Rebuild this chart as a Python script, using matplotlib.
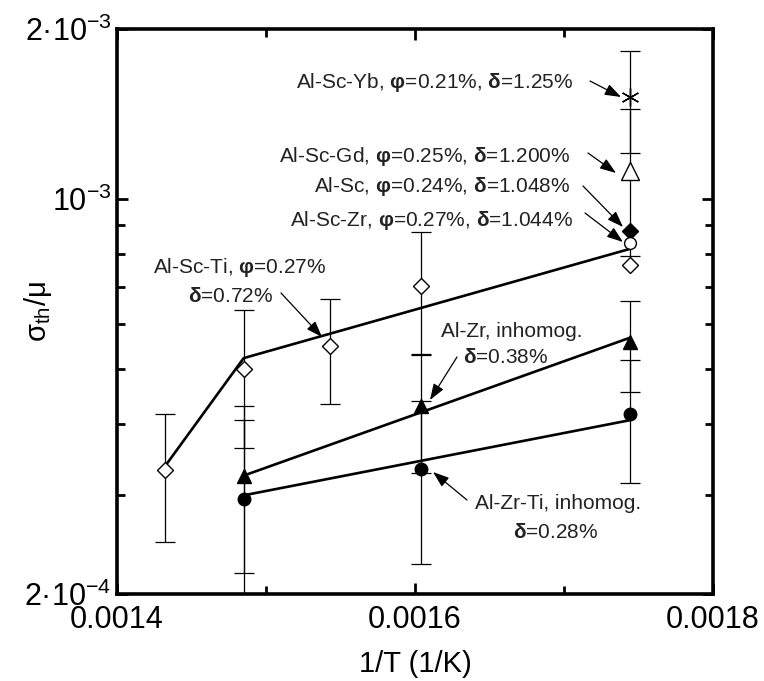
import matplotlib
matplotlib.use('Agg')
import matplotlib.pyplot as plt
from matplotlib.ticker import FixedLocator, FixedFormatter, NullFormatter

plt.rcParams['font.family'] = ['Liberation Sans', 'DejaVu Sans']
plt.rcParams['mathtext.fontset'] = 'custom'
plt.rcParams['mathtext.rm'] = 'Liberation Sans'
plt.rcParams['mathtext.bf'] = 'Liberation Sans:bold'
plt.rcParams['mathtext.it'] = 'Liberation Sans:italic'
plt.rcParams['mathtext.default'] = 'regular'

# ---------------- data ----------------
# Al-Sc-Ti (open diamonds)
x_scti = [0.001432, 0.001485, 0.001543, 0.001604]
y_scti = [3.32e-4, 5.00e-4, 5.50e-4, 7.03e-4]
e_scti = [0.85e-4, 1.37e-4, 1.16e-4, 1.73e-4]
x_scti_300 = 0.001744
y_scti_300 = 7.64e-4
fit_scti_x = [0.001432, 0.001485, 0.001744]
fit_scti_y = [3.36e-4, 5.23e-4, 8.16e-4]

# Al-Zr inhomog. (filled triangles)
x_zr = [0.001485, 0.001604, 0.001744]
y_zr = [3.24e-4, 4.30e-4, 5.58e-4]
e_zr = [1.06e-4, 1.02e-4, 1.02e-4]
fit_zr_x = [0.001485, 0.001744]
fit_zr_y = [3.24e-4, 5.68e-4]

# Al-Zr-Ti inhomog. (filled circles)
x_zrti = [0.001485, 0.001604, 0.001744]
y_zrti = [2.95e-4, 3.33e-4, 4.17e-4]
e_zrti = [1.11e-4, 1.07e-4, 1.03e-4]
fit_zrti_x = [0.001485, 0.001744]
fit_zrti_y = [2.99e-4, 4.06e-4]

# single alloys at 300 C
x_300 = 0.001744
y_yb, e_yb = 1.518e-3, 0.31e-3     # Al-Sc-Yb (asterisk)
y_gd, e_gd = 1.119e-3, 0.325e-3    # Al-Sc-Gd (open triangle)
y_sc = 8.78e-4                     # Al-Sc (filled diamond)
y_sczr = 8.36e-4                   # Al-Sc-Zr (open circle)

x_major = [0.0014, 0.0016, 0.0018]
x_major_labels = ['0.0014', '0.0016', '0.0018']
x_minor = [0.0015, 0.0017]
y_major = [2e-4, 1e-3, 2e-3]
y_major_labels = ['2·10$^{-4}$', '10$^{-3}$', '2·10$^{-3}$']
y_minor = [3e-4, 4e-4, 5e-4, 6e-4, 7e-4, 8e-4, 9e-4]

# ---------------- figure ----------------
W, H = 764, 681
fig = plt.figure(figsize=(W / 100, H / 100), dpi=100)
L, R, T, B = 117, 713, 29, 594
ax = fig.add_axes([L / W, 1 - B / H, (R - L) / W, (B - T) / H])
ax.set_yscale('log')
ax.set_xlim(0.0014, 0.0018)
ax.set_ylim(2e-4, 2e-3)

eb = dict(fmt='none', ecolor='black', elinewidth=0.9, capsize=7, capthick=0.9, zorder=2)
ax.errorbar(x_scti, y_scti, yerr=e_scti, **eb)
ax.errorbar(x_zr, y_zr, yerr=e_zr, **eb)
ax.errorbar(x_zrti, y_zrti, yerr=e_zrti, **eb)
ax.errorbar([x_300], [y_yb], yerr=[e_yb], **eb)
ax.errorbar([x_300], [y_gd], yerr=[e_gd], **eb)

ax.plot(fit_scti_x, fit_scti_y, color='black', lw=1.9, zorder=3)
ax.plot(fit_zr_x, fit_zr_y, color='black', lw=1.9, zorder=3)
ax.plot(fit_zrti_x, fit_zrti_y, color='black', lw=1.9, zorder=3)

mk = dict(linestyle='none', markeredgecolor='black', markeredgewidth=1.0, zorder=4)
ax.plot(x_scti + [x_scti_300], y_scti + [y_scti_300], marker='D', ms=8.5,
        markerfacecolor='white', **mk)
ax.plot(x_zr, y_zr, marker='^', ms=9.5, markerfacecolor='black', **mk)
ax.plot(x_zrti, y_zrti, marker='o', ms=9, markerfacecolor='black', **mk)
ax.plot([x_300], [y_yb], marker=(6, 2, 0), ms=13, markerfacecolor='black', **mk)
ax.plot([x_300], [y_gd], marker='^', ms=13, markerfacecolor='white', **mk)
ax.plot([x_300], [y_sc], marker='D', ms=8.5, markerfacecolor='black', **mk)
ax.plot([x_300], [y_sczr], marker='o', ms=8.5, markerfacecolor='white', **mk)

# ---------------- axes styling ----------------
for s in ax.spines.values():
    s.set_linewidth(2.6)
ax.xaxis.set_major_locator(FixedLocator(x_major))
ax.xaxis.set_major_formatter(FixedFormatter(x_major_labels))
ax.xaxis.set_minor_locator(FixedLocator(x_minor))
ax.xaxis.set_minor_formatter(NullFormatter())
ax.yaxis.set_major_locator(FixedLocator(y_major))
ax.yaxis.set_major_formatter(FixedFormatter(y_major_labels))
ax.yaxis.set_minor_locator(FixedLocator(y_minor))
ax.yaxis.set_minor_formatter(NullFormatter())
ax.tick_params(which='both', direction='in', top=True, right=True,
               labelsize=22, pad=4)
ax.tick_params(axis='x', which='major', pad=8)
ax.tick_params(which='major', length=8, width=2.0)
ax.tick_params(which='minor', length=5.5, width=2.0)
for lab in ax.get_yticklabels():
    lab.set_verticalalignment('center_baseline')

ax.set_xlabel('1/T (1/K)', fontsize=21)
ax.xaxis.set_label_coords(0.5, -0.1)
ax.set_ylabel('σ$_{th}$/μ', fontsize=21)
ax.yaxis.set_label_coords(-0.106, 0.5)


def af(px, py):
    return ((px - L) / (R - L), (B - py) / (B - T))


FS = 15
texts = [
    ('Al-Sc-Yb, $\\mathbf{φ}$=0.21%, $\\mathbf{δ}$=1.25%', 573, 88, 'right'),
    ('Al-Sc-Gd, $\\mathbf{φ}$=0.25%, $\\mathbf{δ}$=1.200%', 570, 162, 'right'),
    ('Al-Sc, $\\mathbf{φ}$=0.24%, $\\mathbf{δ}$=1.048%', 570, 192, 'right'),
    ('Al-Sc-Zr, $\\mathbf{φ}$=0.27%, $\\mathbf{δ}$=1.044%', 573, 226, 'right'),
    ('Al-Sc-Ti, $\\mathbf{φ}$=0.27%', 153, 273, 'left'),
    ('$\\mathbf{δ}$=0.72%', 188, 302, 'left'),
    ('Al-Zr, inhomog.', 441, 337, 'left'),
    ('$\\mathbf{δ}$=0.38%', 463, 363, 'left'),
    ('Al-Zr-Ti, inhomog.', 475, 509, 'left'),
    ('$\\mathbf{δ}$=0.28%', 513, 538, 'left'),
]
for s, px, py, ha in texts:
    ax.text(*af(px, py), s, transform=ax.transAxes, ha=ha, va='baseline',
            fontsize=FS, color='#222222', zorder=5)

arrows = [
    ((590, 81), (621, 97)),
    ((588, 153), (616, 173)),
    ((583, 186), (623, 227)),
    ((585, 213), (623, 242)),
    ((281, 293), (322, 337)),
    ((457, 357), (430, 400)),
    ((467, 500), (433, 472)),
]
for tail, tip in arrows:
    ax.annotate('', xy=af(*tip), xycoords='axes fraction',
                xytext=af(*tail), textcoords='axes fraction',
                arrowprops=dict(arrowstyle='-|>,head_length=0.7,head_width=0.25',
                                color='black', lw=0.9, shrinkA=0, shrinkB=0,
                                mutation_scale=14),
                zorder=5)

fig.savefig('out.png', dpi=100)
